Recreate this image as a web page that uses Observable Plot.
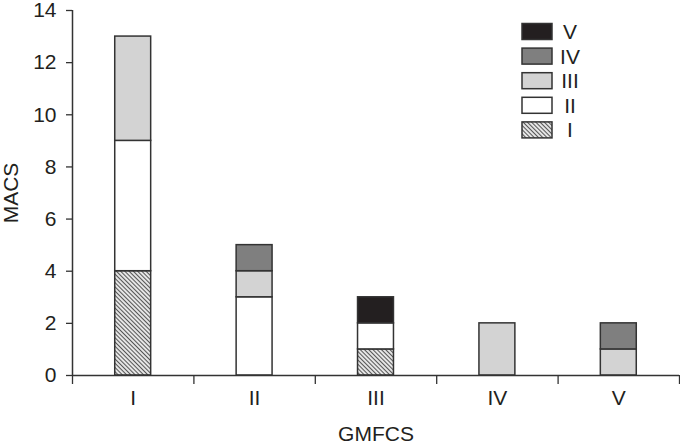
<!DOCTYPE html>
<html><head><meta charset="utf-8">
<script src="https://cdn.jsdelivr.net/npm/d3@7"></script>
<script src="https://cdn.jsdelivr.net/npm/@observablehq/plot@0.6"></script>
<style>body{margin:0;background:#fff}</style>
</head><body><div id="chart"></div>
<script>
// GMFCS categories (x) and MACS levels (stack series)
const gmfcs = ["I", "II", "III", "IV", "V"];
const macsLevels = ["I", "II", "III", "IV", "V"];
// counts per GMFCS category for each MACS level
const macsI   = [4, 0, 1, 0, 0];
const macsII  = [5, 3, 1, 0, 0];
const macsIII = [4, 1, 0, 2, 1];
const macsIV  = [0, 1, 0, 0, 1];
const macsV   = [0, 0, 1, 0, 0];
const yTicks = [0, 2, 4, 6, 8, 10, 12, 14];

const fills = ["url(#hatch)", "#ffffff", "#d3d3d3", "#7f7f7f", "#231f20"];
const series = [macsI, macsII, macsIII, macsIV, macsV];

// stacked rows
const rows = [];
gmfcs.forEach((g, i) => {
  let acc = 0;
  series.forEach((vals, k) => {
    const v = vals[i];
    if (v > 0) rows.push({pos: i + 1, macs: macsLevels[k], y1: acc, y2: acc + v});
    acc += v;
  });
});
const halfWidth = 0.148;
const bounds = d3.range(gmfcs.length + 1).map(i => i + 0.5);
const ink = "#333";
const font = "'Liberation Sans', Arial, sans-serif";

const chart = Plot.plot({
  width: 680, height: 444,
  marginTop: 10, marginBottom: 69, marginLeft: 72, marginRight: 1,
  style: {fontFamily: font, fontSize: "21px", color: "#231f20", background: "#fff"},
  x: {type: "linear", domain: [0.5, gmfcs.length + 0.5]},
  y: {domain: [0, 14]},
  color: {type: "ordinal", domain: macsLevels, range: fills},
  marks: [
    Plot.rect(rows, {x1: d => d.pos - halfWidth, x2: d => d.pos + halfWidth, y1: "y1", y2: "y2", fill: "macs", stroke: ink, strokeWidth: 1.5}),
    Plot.axisY({ticks: yTicks, tickSize: 6, tickPadding: 10, stroke: ink, strokeWidth: 1.3, label: "MACS", labelAnchor: "center", labelArrow: "none", labelOffset: 69}),
    Plot.axisX({ticks: [1, 2, 3, 4, 5], tickSize: 0, tickPadding: 15, tickFormat: i => gmfcs[i - 1], label: "GMFCS", labelAnchor: "center", labelArrow: "none", labelOffset: 65}),
    Plot.axisX({ticks: bounds, tickSize: 9, stroke: ink, strokeWidth: 1.3, tickFormat: () => "", label: null}),
    Plot.ruleY([0], {stroke: ink, strokeWidth: 1.5}),
    Plot.ruleX([0.5], {stroke: ink, strokeWidth: 1.5})
  ]
});

const svg = d3.select(chart);
const defs = svg.insert("defs", ":first-child");
const pat = defs.append("pattern").attr("id", "hatch").attr("patternUnits", "userSpaceOnUse")
  .attr("width", 3).attr("height", 3).attr("patternTransform", "rotate(-45)");
pat.append("rect").attr("width", 3).attr("height", 3).attr("fill", "#fff");
pat.append("line").attr("x1", 1.5).attr("y1", 0).attr("x2", 1.5).attr("y2", 3).attr("stroke", "#555").attr("stroke-width", 1.3);

// in-plot legend, top-right
const legend = svg.append("g").attr("font-family", font).attr("font-size", 21).attr("fill", "#231f20");
const order = macsLevels.map((m, k) => ({m, fill: fills[k]})).reverse();
order.forEach((d, j) => {
  const cy = 31.5 + j * 24.6;
  legend.append("rect").attr("x", 522).attr("y", cy - 8).attr("width", 30).attr("height", 16)
    .attr("fill", d.fill).attr("stroke", ink).attr("stroke-width", 1.5);
  legend.append("text").attr("x", 570).attr("y", cy).attr("dy", "0.36em").text(d.m);
});

document.getElementById("chart").appendChild(chart);
</script>
</body></html>
